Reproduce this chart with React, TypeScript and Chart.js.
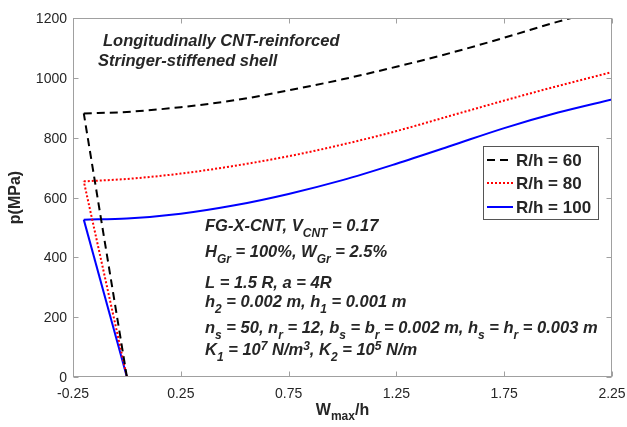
import React, { useEffect, useRef } from 'react';
import { Chart, registerables } from 'chart.js';

Chart.register(...registerables);

// ---------- data ----------
const xTicks = [-0.25, 0.25, 0.75, 1.25, 1.75, 2.25];
const yTicks = [0, 200, 400, 600, 800, 1000, 1200];

// first point: end of the unloading branch (p = 0), then the post-buckling path
const wR60 = [0.0, -0.2, 0.0, 0.25, 0.5, 0.75, 1.0, 1.25, 1.5, 1.75, 2.0, 2.06];
const pR60 = [0, 881, 886, 902, 925, 958, 995, 1037, 1083, 1134, 1188, 1200];

const wR80 = [0.0, -0.2, 0.0, 0.25, 0.5, 0.75, 1.0, 1.25, 1.5, 1.75, 2.0, 2.25];
const pR80 = [0, 654, 662, 680, 706, 738, 777, 822, 873, 924, 973, 1019];

const wR100 = [0.0, -0.2, 0.0, 0.25, 0.5, 0.75, 1.0, 1.25, 1.5, 1.75, 2.0, 2.25];
const pR100 = [0, 526, 530, 546, 574, 612, 658, 713, 772, 832, 884, 928];

const seriesLabels = ['R/h = 60', 'R/h = 80', 'R/h = 100'];

type Run = { t: string; s?: 'sub' | 'sup' };

const titleLines: Run[][] = [
  [{ t: 'Longitudinally CNT-reinforced' }],
  [{ t: 'Stringer-stiffened shell' }],
];

const infoLines: Run[][] = [
  [{ t: 'FG-X-CNT, V' }, { t: 'CNT', s: 'sub' }, { t: ' = 0.17' }],
  [{ t: 'H' }, { t: 'Gr', s: 'sub' }, { t: ' = 100%, W' }, { t: 'Gr', s: 'sub' }, { t: ' = 2.5%' }],
  [{ t: 'L = 1.5 R, a = 4R' }],
  [{ t: 'h' }, { t: '2', s: 'sub' }, { t: ' = 0.002 m, h' }, { t: '1', s: 'sub' }, { t: ' = 0.001 m' }],
  [
    { t: 'n' }, { t: 's', s: 'sub' }, { t: ' = 50, n' }, { t: 'r', s: 'sub' }, { t: ' = 12, b' },
    { t: 's', s: 'sub' }, { t: ' = b' }, { t: 'r', s: 'sub' }, { t: ' = 0.002 m, h' }, { t: 's', s: 'sub' },
    { t: ' = h' }, { t: 'r', s: 'sub' }, { t: ' = 0.003 m' },
  ],
  [
    { t: 'K' }, { t: '1', s: 'sub' }, { t: ' = 10' }, { t: '7', s: 'sup' }, { t: ' N/m' }, { t: '3', s: 'sup' },
    { t: ', K' }, { t: '2', s: 'sub' }, { t: ' = 10' }, { t: '5', s: 'sup' }, { t: ' N/m' },
  ],
];

const xTitle: Run[] = [{ t: 'W' }, { t: 'max', s: 'sub' }, { t: '/h' }];
const yTitle = 'p(MPa)';

// ---------- styles ----------
const FONT = '"Liberation Sans", Arial, Helvetica, sans-serif';
const AXIS_COLOR = '#a0a0a0';
const TEXT_COLOR = '#262626';

const styles = [
  { color: '#000000', dash: [8, 5], width: 2 },
  { color: '#ff0000', dash: [2, 2], width: 2 },
  { color: '#0000ff', dash: [] as number[], width: 2 },
];

function drawRuns(ctx: CanvasRenderingContext2D, runs: Run[], x: number, y: number, size: number, style: string, measureOnly = false) {
  let cx = x;
  for (const r of runs) {
    const fs = r.s ? Math.round(size * 0.72) : size;
    ctx.font = `${style} ${fs}px ${FONT}`;
    const dy = r.s === 'sub' ? size * 0.34 : r.s === 'sup' ? -size * 0.3 : 0;
    if (!measureOnly) ctx.fillText(r.t, cx, y + dy);
    cx += ctx.measureText(r.t).width;
  }
  return cx - x;
}

const overlay = {
  id: 'overlay',
  afterDatasetsDraw(chart: any) {
    const { ctx, chartArea: a, scales } = chart;
    const xs = scales.x;
    const ys = scales.y;
    ctx.save();
    const L = Math.round(a.left) + 0.5;
    const R = Math.round(a.right) - 0.5;
    const T = Math.round(a.top) + 0.5;
    const B = Math.round(a.bottom) - 0.5;

    // box
    ctx.strokeStyle = AXIS_COLOR;
    ctx.lineWidth = 1;
    ctx.setLineDash([]);
    ctx.strokeRect(L, T, R - L, B - T);

    const tl = 5;
    ctx.beginPath();
    for (const v of xTicks) {
      const px = Math.round(xs.getPixelForValue(v)) + 0.5;
      ctx.moveTo(px, B); ctx.lineTo(px, B - tl);
      ctx.moveTo(px, T); ctx.lineTo(px, T + tl);
    }
    for (const v of yTicks) {
      const py = Math.round(ys.getPixelForValue(v)) + 0.5;
      ctx.moveTo(L, py); ctx.lineTo(L + tl, py);
      ctx.moveTo(R, py); ctx.lineTo(R - tl, py);
    }
    ctx.stroke();

    // tick labels
    ctx.fillStyle = TEXT_COLOR;
    ctx.font = `14px ${FONT}`;
    ctx.textAlign = 'center';
    ctx.textBaseline = 'alphabetic';
    for (const v of xTicks) {
      ctx.fillText(v.toFixed(2), xs.getPixelForValue(v), a.bottom + 21);
    }
    ctx.textAlign = 'right';
    for (const v of yTicks) {
      ctx.fillText(String(v), a.left - 6, ys.getPixelForValue(v) + 5);
    }

    // axis titles
    ctx.textAlign = 'left';
    const xw = drawRuns(ctx, xTitle, 0, 0, 16, 'bold', true);
    drawRuns(ctx, xTitle, (a.left + a.right) / 2 - xw / 2, a.bottom + 38, 16, 'bold');
    ctx.save();
    ctx.translate(20, (a.top + a.bottom) / 2);
    ctx.rotate(-Math.PI / 2);
    ctx.font = `bold 16px ${FONT}`;
    ctx.textAlign = 'center';
    ctx.fillText(yTitle, 0, 0);
    ctx.restore();

    // title text
    ctx.textAlign = 'left';
    const titlePos = [[103, 46], [98, 66]];
    titleLines.forEach((ln, i) => drawRuns(ctx, ln, titlePos[i][0], titlePos[i][1], 16.5, 'italic bold'));

    // info text
    const infoY = [231, 257, 288, 307, 333, 355];
    infoLines.forEach((ln, i) => drawRuns(ctx, ln, 205, infoY[i], 16.5, 'italic bold'));

    // legend
    const lx = 483.5, ly = 146.5, lw = 115, lh = 73;
    ctx.fillStyle = '#ffffff';
    ctx.fillRect(lx, ly, lw, lh);
    ctx.strokeStyle = '#555555';
    ctx.lineWidth = 1;
    ctx.strokeRect(lx, ly, lw, lh);
    const rowY = [160, 183, 207];
    seriesLabels.forEach((lab, i) => {
      const st = styles[i];
      ctx.beginPath();
      ctx.strokeStyle = st.color;
      ctx.lineWidth = st.width;
      ctx.setLineDash(st.dash);
      ctx.moveTo(487, rowY[i]);
      ctx.lineTo(513, rowY[i]);
      ctx.stroke();
      ctx.setLineDash([]);
      ctx.fillStyle = TEXT_COLOR;
      ctx.font = `bold 17px ${FONT}`;
      ctx.fillText(lab, 516, rowY[i] + 6);
    });
    ctx.restore();
  },
};

export default function App() {
  const ref = useRef<HTMLCanvasElement>(null);
  useEffect(() => {
    if (!ref.current) return;
    const mk = (w: number[], p: number[]) => w.map((x, i) => ({ x, y: p[i] }));
    const series = [
      mk(wR60, pR60),
      mk(wR80, pR80),
      mk(wR100, pR100),
    ];
    const datasets: any[] = [];
    series.forEach((pts, i) => {
      const base = {
        label: seriesLabels[i],
        borderColor: styles[i].color,
        borderWidth: styles[i].width,
        borderDash: styles[i].dash,
        pointRadius: 0,
        fill: false,
      };
      // straight unloading branch
      datasets.push({ ...base, data: pts.slice(0, 2), tension: 0 });
      // smooth post-buckling path
      datasets.push({ ...base, data: pts.slice(1), cubicInterpolationMode: 'monotone' });
    });
    const chart = new Chart(ref.current, {
      type: 'line',
      data: { datasets },
      options: {
        animation: false,
        responsive: false,
        devicePixelRatio: 1,
        layout: { padding: { left: 73, right: 15, top: 18, bottom: 50 } },
        plugins: { legend: { display: false }, tooltip: { enabled: false } },
        scales: {
          x: { type: 'linear', display: false, min: -0.25, max: 2.25 },
          y: { type: 'linear', display: false, min: 0, max: 1200 },
        },
      },
      plugins: [overlay],
    } as any);
    return () => chart.destroy();
  }, []);
  return (
    <div style={{ position: 'absolute', left: 0, top: 0, width: 627, height: 427, background: '#fff' }}>
      <canvas ref={ref} width={627} height={427} />
    </div>
  );
}
